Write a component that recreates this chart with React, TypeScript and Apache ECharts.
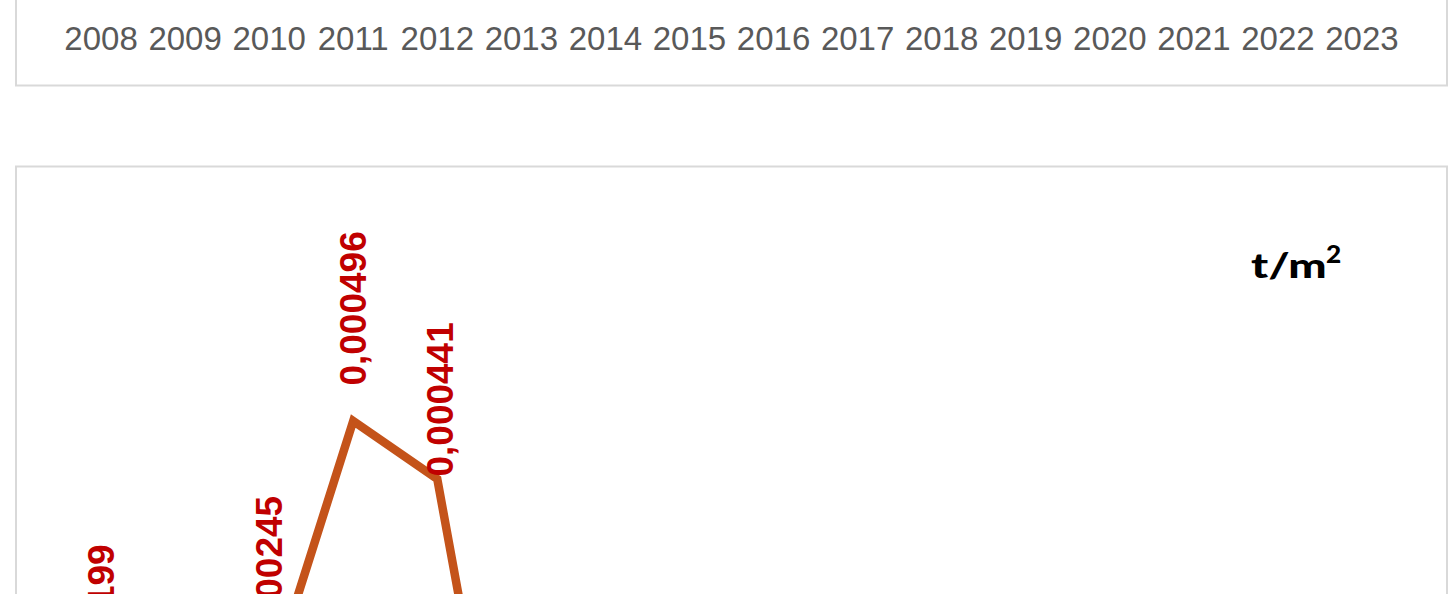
import React, { useEffect, useRef } from "react";
import * as echarts from "echarts";

const years = ["2008", "2009", "2010", "2011", "2012", "2013", "2014", "2015", "2016", "2017", "2018", "2019", "2020", "2021", "2022", "2023"];
const intensity = [0.000199, 0.00012, 0.000245, 0.000496, 0.000441, 0.000006, 0.000005, 0.000005, 0.000004, 0.000004, 0.000004, 0.000003, 0.000003, 0.000003, 0.000002, 0.000002];
const unitMain = "t/m";
const unitSup = "2";
const yMin = 0;
const yMax = 0.0007;

const sans = "'Liberation Sans', Arial, sans-serif";
const SHIFT = 200; // inner chart is shifted up by this many pixels
const INNER_H = 1200;

function fmt(v: number): string {
  return v.toFixed(6).replace(".", ",");
}

export default function App() {
  const ref = useRef<HTMLDivElement>(null);
  useEffect(() => {
    if (!ref.current) return;
    const chart = echarts.init(ref.current, undefined, { renderer: "svg" });
    const seriesData = intensity.map((v, i) =>
      i === 4 ? { value: v, label: { distance: 2, offset: [0, 3] } } : { value: v }
    );
    chart.setOption({
      animation: false,
      backgroundColor: "#ffffff",
      graphic: [
        {
          type: "rect",
          shape: { x: 16, y: SHIFT - 60, width: 1431, height: 145.5 },
          style: { fill: "none", stroke: "#d9d9d9", lineWidth: 2 },
          silent: true,
        },
        {
          type: "rect",
          shape: { x: 16, y: SHIFT + 166.5, width: 1431, height: 900 },
          style: { fill: "none", stroke: "#d9d9d9", lineWidth: 2 },
          silent: true,
        },
        {
          type: "text",
          x: 1251,
          y: SHIFT + 265,
          scaleX: 1.3,
          style: {
            text: unitMain,
            fill: "#000000",
            fontFamily: "Lato",
            fontWeight: 900,
            fontSize: 35,
            align: "left",
            verticalAlign: "middle",
          },
        },
        {
          type: "text",
          x: 1326,
          y: SHIFT + 253,
          scaleX: 1.05,
          style: {
            text: unitSup,
            fill: "#000000",
            fontFamily: "Lato",
            fontWeight: 900,
            fontSize: 25,
            align: "left",
            verticalAlign: "middle",
          },
        },
      ],
      grid: [
        { left: 59, right: 44, top: 20, bottom: INNER_H - (SHIFT + 10.5) },
        { left: 59, right: 44, top: SHIFT + 206, bottom: INNER_H - (SHIFT + 944) },
      ],
      xAxis: [
        {
          type: "category",
          gridIndex: 0,
          data: years,
          boundaryGap: true,
          axisLine: { show: false },
          axisTick: { show: false },
          axisLabel: {
            color: "#595959",
            fontFamily: sans,
            fontSize: 33,
            lineHeight: 39,
            margin: 8,
            interval: 0,
          },
        },
        {
          type: "category",
          gridIndex: 1,
          data: years,
          boundaryGap: true,
          show: false,
        },
      ],
      yAxis: [
        { type: "value", gridIndex: 0, show: false, splitLine: { show: false } },
        { type: "value", gridIndex: 1, min: yMin, max: yMax, show: false, splitLine: { show: false } },
      ],
      series: [
        {
          type: "line",
          xAxisIndex: 1,
          yAxisIndex: 1,
          data: seriesData,
          symbol: "circle",
          symbolSize: 1,
          itemStyle: { color: "#C4531A" },
          lineStyle: { color: "#C4531A", width: 8.5, join: "miter" },
          label: {
            show: true,
            position: "top",
            distance: 35,
            rotate: 90,
            align: "left",
            verticalAlign: "middle",
            color: "#C00000",
            fontFamily: sans,
            fontWeight: "bold",
            fontSize: 37,
            formatter: (p: any) => fmt(p.value),
          },
        },
      ],
    });
    return () => chart.dispose();
  }, []);
  return (
    <div
      style={{
        position: "fixed",
        left: 0,
        top: 0,
        width: 1448,
        height: 594,
        overflow: "hidden",
        background: "#ffffff",
      }}
    >
      <div
        ref={ref}
        style={{ position: "absolute", left: 0, top: -SHIFT, width: 1448, height: INNER_H }}
      />
    </div>
  );
}
